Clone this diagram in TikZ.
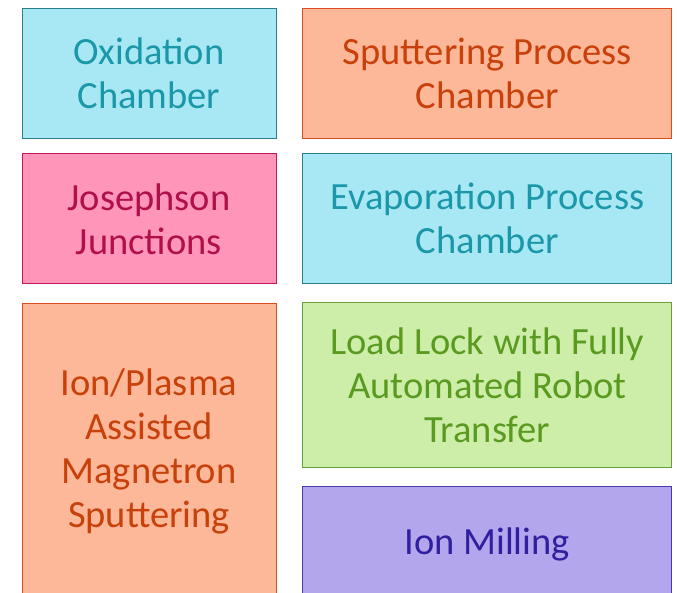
\documentclass[tikz,border=0pt]{standalone}
\usepackage{fontspec}
\setmainfont{Carlito}
\usepackage{xcolor}
\usepackage{tikz}
\usetikzlibrary{shapes,positioning}
\definecolor{cyanfill}{HTML}{A8E8F4}
\definecolor{cyanline}{HTML}{2A7F8C}
\definecolor{cyantext}{HTML}{1A97A8}
\definecolor{salmonfill}{HTML}{FDB899}
\definecolor{salmonline}{HTML}{D9501E}
\definecolor{salmontext}{HTML}{C8400A}
\definecolor{pinkfill}{HTML}{FF96BA}
\definecolor{pinkline}{HTML}{C0185A}
\definecolor{pinktext}{HTML}{B0104A}
\definecolor{greenfill}{HTML}{CDEEA8}
\definecolor{greenline}{HTML}{6A9E3A}
\definecolor{greentext}{HTML}{5A9A20}
\definecolor{purplefill}{HTML}{B3A6EC}
\definecolor{purpleline}{HTML}{4A3AB0}
\definecolor{purpletext}{HTML}{3020A0}
\tikzstyle{box} = [rectangle, line width=0.8pt, align=center, inner sep=0pt, font=\fontsize{38.5}{44}\selectfont]
\tikzstyle{narrow} = [box, minimum width=254pt, minimum height=130pt]
\tikzstyle{wide} = [box, minimum width=369pt, minimum height=130pt]
\tikzstyle{cyanbox} = [draw=cyanline, fill=cyanfill, text=cyantext]
\tikzstyle{salmonbox} = [draw=salmonline, fill=salmonfill, text=salmontext]
\tikzstyle{pinkbox} = [draw=pinkline, fill=pinkfill, text=pinktext]
\tikzstyle{greenbox} = [draw=greenline, fill=greenfill, text=greentext]
\tikzstyle{purplebox} = [draw=purpleline, fill=purplefill, text=purpletext]

\begin{document}
\begin{tikzpicture}[x=1pt, y=1pt]
    \clip (0,0) rectangle (677,-593);
    \fill[white] (0,0) rectangle (677,-593);

    % Top row
    \node [narrow, cyanbox] (oxidation) at (149,-73) {Oxidation\\Chamber};
    \node [wide, salmonbox, right=26pt of oxidation] (sputter) {Sputtering Process\\Chamber};

    % Second row
    \node [narrow, pinkbox, below=15pt of oxidation] (josephson) {Josephson\\Junctions};
    \node [wide, cyanbox, below=15pt of sputter] (evap) {Evaporation Process\\Chamber};

    % Lower part
    \node [narrow, salmonbox, minimum height=296pt, below=19pt of josephson] (magnetron) {Ion/Plasma\\Assisted\\Magnetron\\Sputtering};
    \node [wide, greenbox, minimum height=165pt, below=18pt of evap] (loadlock) {Load Lock with Fully\\Automated Robot\\Transfer};
    \node [wide, purplebox, minimum height=116pt, below=18pt of loadlock] (milling) {Ion Milling};
\end{tikzpicture}
\end{document}
